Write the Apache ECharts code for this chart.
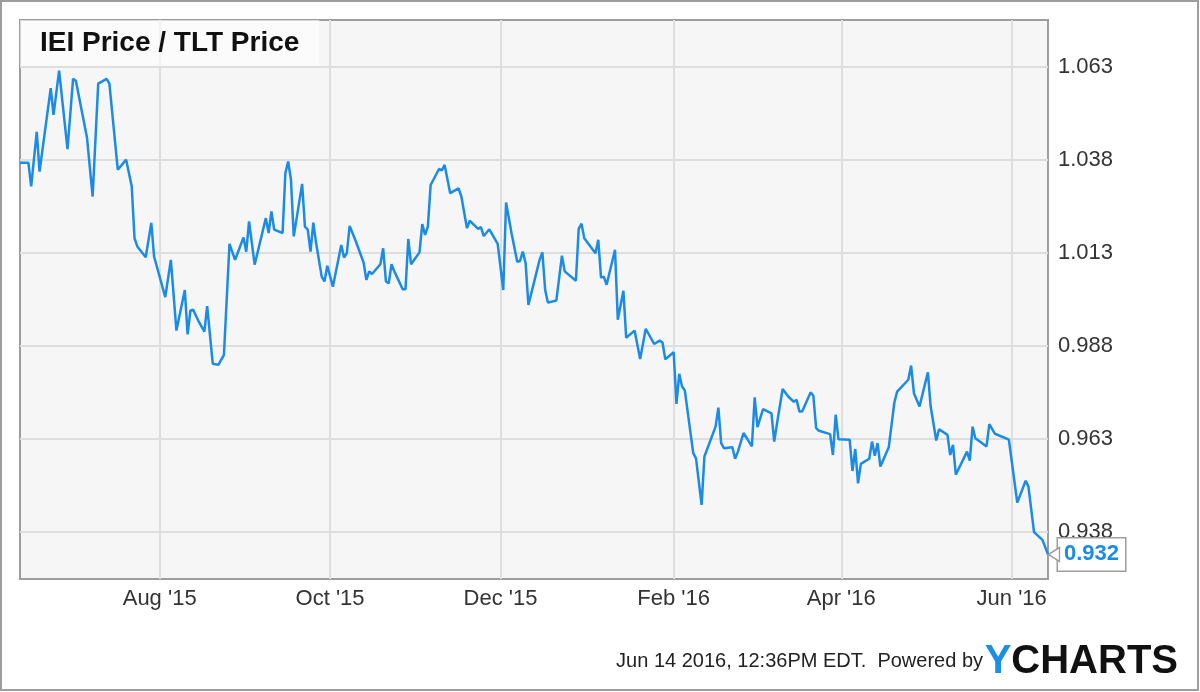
<!DOCTYPE html>
<html>
<head>
<meta charset="utf-8">
<script src="https://cdn.jsdelivr.net/npm/echarts@6/dist/echarts.min.js"></script>
<style>
html,body{margin:0;padding:0;background:#fff;}
#chart{width:1200px;height:692px;}
</style>
</head>
<body>
<div id="chart"></div>
<script>
const titleText = 'IEI Price / TLT Price';
const footerText = 'Jun 14 2016, 12:36PM EDT.  Powered by';

const dates = [
'2015-06-12','2015-06-15','2015-06-16','2015-06-18','2015-06-19','2015-06-23','2015-06-24','2015-06-26','2015-06-29',
'2015-07-01','2015-07-02','2015-07-06','2015-07-08','2015-07-10','2015-07-13','2015-07-14','2015-07-17','2015-07-20',
'2015-07-22','2015-07-23','2015-07-24','2015-07-27','2015-07-29','2015-07-30',
'2015-08-03','2015-08-05','2015-08-07','2015-08-10','2015-08-11','2015-08-12','2015-08-13','2015-08-15','2015-08-17',
'2015-08-18','2015-08-20','2015-08-22','2015-08-24','2015-08-26','2015-08-28','2015-08-31',
'2015-09-01','2015-09-02','2015-09-04','2015-09-08','2015-09-09','2015-09-10','2015-09-11','2015-09-14','2015-09-15',
'2015-09-16','2015-09-17','2015-09-18','2015-09-21','2015-09-22','2015-09-23','2015-09-24','2015-09-25','2015-09-26',
'2015-09-28','2015-09-29','2015-09-30',
'2015-10-02','2015-10-05','2015-10-06','2015-10-07','2015-10-08','2015-10-10','2015-10-13','2015-10-14','2015-10-15',
'2015-10-16','2015-10-19','2015-10-20','2015-10-21','2015-10-22','2015-10-23','2015-10-24','2015-10-27','2015-10-28',
'2015-10-29','2015-10-30',
'2015-11-02','2015-11-03','2015-11-04','2015-11-05','2015-11-06','2015-11-09','2015-11-10','2015-11-11','2015-11-13',
'2015-11-16','2015-11-17','2015-11-19','2015-11-20','2015-11-23','2015-11-24','2015-11-25','2015-11-27','2015-11-30',
'2015-12-02','2015-12-03','2015-12-05','2015-12-07','2015-12-08','2015-12-09','2015-12-10','2015-12-11','2015-12-15',
'2015-12-16','2015-12-17','2015-12-18','2015-12-21','2015-12-23','2015-12-24','2015-12-28','2015-12-29','2015-12-30',
'2015-12-31',
'2016-01-04','2016-01-05','2016-01-06','2016-01-07','2016-01-08','2016-01-11','2016-01-12','2016-01-14','2016-01-15',
'2016-01-18','2016-01-20','2016-01-22','2016-01-25','2016-01-27','2016-01-28','2016-01-29',
'2016-02-01','2016-02-02','2016-02-03','2016-02-04','2016-02-05','2016-02-08','2016-02-09','2016-02-11','2016-02-12',
'2016-02-16','2016-02-17','2016-02-18','2016-02-19','2016-02-22','2016-02-23','2016-02-24','2016-02-26','2016-02-29',
'2016-03-01','2016-03-02','2016-03-04','2016-03-07','2016-03-08','2016-03-09','2016-03-11','2016-03-13','2016-03-15',
'2016-03-16','2016-03-17','2016-03-18','2016-03-21','2016-03-22','2016-03-23','2016-03-24','2016-03-28','2016-03-29',
'2016-03-30','2016-03-31',
'2016-04-04','2016-04-05','2016-04-06','2016-04-07','2016-04-08','2016-04-11','2016-04-12','2016-04-13','2016-04-14',
'2016-04-15','2016-04-18','2016-04-20','2016-04-21','2016-04-25','2016-04-26','2016-04-27','2016-04-29',
'2016-05-02','2016-05-03','2016-05-05','2016-05-06','2016-05-09','2016-05-10','2016-05-11','2016-05-12','2016-05-16',
'2016-05-17','2016-05-18','2016-05-19','2016-05-23','2016-05-24','2016-05-26','2016-05-31',
'2016-06-03','2016-06-06','2016-06-07','2016-06-09','2016-06-12','2016-06-14'
];

const ratio = [
1.0372,1.0372,1.0308,1.0455,1.0348,1.0572,1.0500,1.0619,1.0408,
1.0597,1.0592,1.0438,1.0281,1.0584,1.0597,1.0584,1.0353,1.0380,
1.0308,1.0169,1.0147,1.0118,1.0210,1.0120,
1.0011,1.0111,0.9921,1.0030,0.9911,0.9975,0.9977,0.9945,0.9918,
0.9987,0.9832,0.9829,0.9856,1.0154,1.0111,1.0171,
1.0133,1.0214,1.0098,1.0223,1.0183,1.0241,1.0192,1.0183,1.0344,
1.0375,1.0326,1.0174,1.0315,1.0200,1.0192,1.0133,1.0211,1.0156,
1.0066,1.0053,1.0095,
1.0039,1.0151,1.0117,1.0129,1.0202,1.0165,1.0104,1.0057,1.0080,
1.0073,1.0099,1.0142,1.0053,1.0048,1.0099,1.0080,1.0032,1.0032,
1.0167,1.0099,
1.0131,1.0207,1.0178,1.0200,1.0312,1.0355,1.0351,1.0366,1.0290,
1.0303,1.0281,1.0196,1.0216,1.0194,1.0199,1.0175,1.0193,1.0154,
1.0030,1.0265,1.0181,1.0106,1.0108,1.0133,1.0102,0.9990,1.0111,
1.0131,1.0030,0.9996,1.0002,1.0122,1.0080,1.0055,1.0194,1.0208,
1.0169,
1.0129,1.0165,1.0063,1.0066,1.0044,1.0138,0.9950,1.0028,0.9902,
0.9921,0.9845,0.9926,0.9885,0.9894,0.9889,0.9844,
0.9863,0.9724,0.9805,0.9771,0.9760,0.9592,0.9578,0.9453,0.9583,
0.9663,0.9714,0.9619,0.9605,0.9608,0.9577,0.9596,0.9646,0.9610,
0.9742,0.9662,0.9710,0.9699,0.9623,0.9672,0.9764,0.9744,0.9730,
0.9735,0.9704,0.9704,0.9755,0.9746,0.9659,0.9652,0.9643,0.9587,
0.9695,0.9629,
0.9628,0.9544,0.9603,0.9511,0.9563,0.9577,0.9623,0.9585,0.9619,
0.9556,0.9608,0.9728,0.9757,0.9789,0.9827,0.9753,0.9717,
0.9809,0.9717,0.9626,0.9656,0.9641,0.9587,0.9614,0.9534,0.9596,
0.9572,0.9663,0.9632,0.9610,0.9670,0.9644,0.9628,
0.9459,0.9518,0.9502,0.9380,0.9359,0.932
];

const xRange = ['2015-06-12', '2016-06-14'];
const xTickDates = ['2015-08-01','2015-10-01','2015-12-01','2016-02-01','2016-04-01','2016-06-01'];
const xTickLabels = ["Aug '15","Oct '15","Dec '15","Feb '16","Apr '16","Jun '16"];
const yRange = [0.9254, 1.0755];
const yTicks = [0.938, 0.963, 0.988, 1.013, 1.038, 1.063];

function toTime(s) {
  const p = s.split('-').map(Number);
  return Date.UTC(p[0], p[1] - 1, p[2]);
}
const xTickValues = xTickDates.map(toTime);
const seriesData = dates.map((d, i) => [toTime(d), ratio[i]]);
const last = seriesData[seriesData.length - 1];

const FONT = '"Liberation Sans", Arial, sans-serif';
const BLUE = '#1c8be6';

const chart = echarts.init(document.getElementById('chart'), null, {renderer: 'canvas'});
chart.setOption({
  animation: false,
  backgroundColor: '#ffffff',
  title: {
    text: titleText,
    left: 20, top: 20,
    padding: [8, 20, 8, 20],
    backgroundColor: 'rgba(255,255,255,0.6)',
    textStyle: {fontFamily: FONT, fontWeight: 'bold', fontSize: 28, color: '#111', lineHeight: 30}
  },
  grid: {
    left: 20, top: 20, right: 152, bottom: 113,
    show: true, backgroundColor: '#f6f6f6', borderColor: '#9d9d9d', borderWidth: 2
  },
  xAxis: {
    type: 'value',
    min: toTime(xRange[0]), max: toTime(xRange[1]),
    axisLine: {show: false},
    axisTick: {show: false, customValues: xTickValues},
    splitLine: {show: true, lineStyle: {color: '#dedede', width: 2}},
    axisLabel: {
      customValues: xTickValues,
      margin: 9,
      fontFamily: FONT, fontSize: 22, color: '#333',
      formatter: function (v) {
        for (let i = 0; i < xTickValues.length; i++) {
          if (Math.abs(xTickValues[i] - v) < 43200000) return xTickLabels[i];
        }
        return '';
      }
    }
  },
  yAxis: {
    type: 'value',
    position: 'right',
    min: yRange[0], max: yRange[1],
    axisLine: {show: false},
    axisTick: {show: false, customValues: yTicks},
    splitLine: {show: true, lineStyle: {color: '#dedede', width: 2}},
    axisLabel: {
      customValues: yTicks,
      margin: 10,
      fontFamily: FONT, fontSize: 22, color: '#333',
      formatter: v => v.toFixed(3)
    }
  },
  series: [{
    type: 'line',
    data: seriesData,
    symbol: 'none',
    lineStyle: {color: BLUE, width: 2.5},
    endLabel: {
      show: true,
      distance: 10,
      formatter: p => p.value[1].toFixed(3),
      fontFamily: FONT, fontSize: 22, fontWeight: 'bold', color: BLUE,
      backgroundColor: '#fff', borderColor: '#9d9d9d', borderWidth: 1.5,
      padding: [6, 6, 4, 6]
    },
    markPoint: {
      silent: true,
      symbol: 'path://M0,6 L11,0 L11,12 Z',
      symbolSize: [11, 14],
      symbolOffset: [6, 0],
      itemStyle: {color: '#fff', borderColor: '#9d9d9d', borderWidth: 1.5},
      label: {show: false},
      data: [{coord: last}]
    }
  }],
  graphic: [
    {type: 'rect', silent: true, z: 100,
     shape: {x: 1, y: 1, width: 1197, height: 689},
     style: {fill: 'none', stroke: '#9d9d9d', lineWidth: 2}},
    {type: 'text', silent: true, right: 217, top: 651,
     style: {text: footerText, font: '20px ' + FONT, fill: '#222'}},
    {type: 'text', silent: true, right: 22, top: 642,
     style: {
       text: '{y|Y}{c|CHARTS}',
       rich: {
         y: {font: 'bold 40px ' + FONT, fill: '#1a8fe6'},
         c: {font: 'bold 40px ' + FONT, fill: '#111'}
       }
     }}
  ]
});
</script>
</body>
</html>
